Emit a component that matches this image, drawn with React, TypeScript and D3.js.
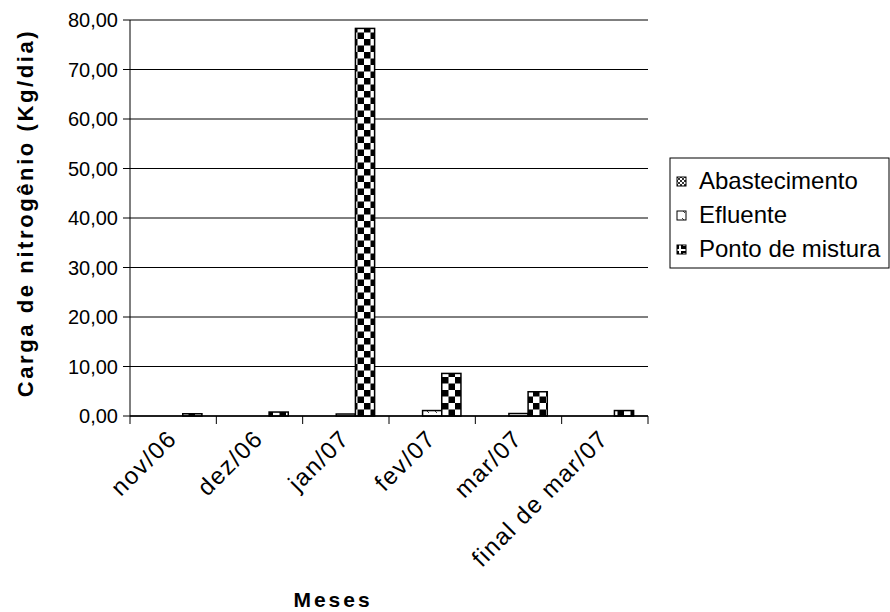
import React from "react";
import * as d3 from "d3";

const categories = ["nov/06", "dez/06", "jan/07", "fev/07", "mar/07", "final de mar/07"];
const seriesNames = ["Abastecimento", "Efluente", "Ponto de mistura"];
const abastecimento = [0, 0, 0, 0, 0, 0];
const efluente = [0, 0, 0.4, 1.1, 0.5, 0];
const pontoDeMistura = [0.45, 0.8, 78.3, 8.6, 4.9, 1.1];
const yTicks = [0, 10, 20, 30, 40, 50, 60, 70, 80];

const W = 890;
const H = 612;
const left = 130;
const right = 648;
const top = 20;
const bottom = 416;
const FONT = "'Liberation Sans', Arial, sans-serif";

export default function App() {
  const series = [abastecimento, efluente, pontoDeMistura];
  const patterns = ["pAbast", "pEflu", "pPonto"];
  const x = d3.scaleBand<string>().domain(categories).range([left, right]).paddingInner(0).paddingOuter(0);
  const inner = d3
    .scaleBand<string>()
    .domain(seriesNames)
    .range([0, x.bandwidth()])
    .paddingInner(0)
    .paddingOuter(0.75);
  const y = d3.scaleLinear().domain([0, 80]).range([bottom, top]);
  const fmt = (v: number) => v.toFixed(2).replace(".", ",");
  const boundaries = d3.range(categories.length + 1).map((i) => left + i * x.step());

  return (
    <svg width={W} height={H} style={{ position: "absolute", left: 0, top: 0, background: "#fff" }}>
      <defs>
        <pattern id="pAbast" width="4" height="4" patternUnits="userSpaceOnUse">
          <rect width="4" height="4" fill="#fff" />
          <rect width="2" height="2" fill="#333" />
          <rect x="2" y="2" width="2" height="2" fill="#333" />
        </pattern>
        <pattern id="pEflu" width="8" height="8" patternUnits="userSpaceOnUse">
          <rect width="8" height="8" fill="#fff" />
          <path d="M2,2 L5,5" stroke="#444" strokeWidth="1" />
        </pattern>
        <pattern id="pPonto" width="13" height="13" patternUnits="userSpaceOnUse" x={left} y={bottom}>
          <rect width="13" height="13" fill="#fff" />
          <rect width="6.5" height="6.5" fill="#000" />
          <rect x="6.5" y="6.5" width="6.5" height="6.5" fill="#000" />
        </pattern>
        <pattern id="pPontoLeg" width="10" height="10" patternUnits="userSpaceOnUse">
          <rect width="10" height="10" fill="#fff" />
          <rect x="1" y="1" width="8" height="8" fill="#000" />
          <rect x="3" y="3" width="4" height="3" fill="#fff" />
        </pattern>
      </defs>

      {/* gridlines */}
      {yTicks.map((t) => (
        <line key={"g" + t} x1={left} x2={right} y1={y(t)} y2={y(t)} stroke="#000" strokeWidth={1} />
      ))}

      {/* bars */}
      {categories.map((c, ci) => (
        <g key={c}>
          {series.map((s, si) => {
            const v = s[ci];
            if (v <= 0) return null;
            const bx = (x(c) as number) + (inner(seriesNames[si]) as number);
            return (
              <rect
                key={si}
                x={bx}
                y={y(v)}
                width={inner.bandwidth()}
                height={bottom - y(v)}
                fill={`url(#${patterns[si]})`}
                stroke="#000"
                strokeWidth={1.5}
              />
            );
          })}
        </g>
      ))}

      {/* y axis */}
      <line x1={left} x2={left} y1={top} y2={bottom} stroke="#000" strokeWidth={1} />
      {yTicks.map((t) => (
        <g key={"yt" + t}>
          <line x1={left - 7} x2={left} y1={y(t)} y2={y(t)} stroke="#000" />
          <text
            x={left - 12}
            y={y(t)}
            dy="0.36em"
            textAnchor="end"
            fontFamily={FONT}
            fontSize={20}
            fill="#000"
          >
            {fmt(t)}
          </text>
        </g>
      ))}

      {/* x axis */}
      <line x1={left} x2={right} y1={bottom} y2={bottom} stroke="#000" strokeWidth={1.5} />
      {boundaries.map((b, i) => (
        <line key={"xt" + i} x1={b} x2={b} y1={bottom} y2={bottom + 8} stroke="#000" />
      ))}
      {categories.map((c) => {
        const cx = (x(c) as number) + x.bandwidth() / 2 + 5;
        const cy = bottom + 24;
        return (
          <text
            key={"xl" + c}
            transform={`translate(${cx},${cy}) rotate(-45)`}
            textAnchor="end"
            fontFamily={FONT}
            fontSize={24}
            letterSpacing={1.5}
            fill="#000"
          >
            {c}
          </text>
        );
      })}

      {/* axis titles */}
      <text
        transform={`translate(33,${(top + bottom) / 2 - 5}) rotate(-90)`}
        textAnchor="middle"
        fontFamily={FONT}
        fontSize={22}
        fontWeight="bold"
        letterSpacing={2.6}
        fill="#000"
      >
        Carga de nitrogênio (Kg/dia)
      </text>
      <text
        x={(left + right) / 2 - 56}
        y={607}
        textAnchor="middle"
        fontFamily={FONT}
        fontSize={21}
        fontWeight="bold"
        letterSpacing={3}
        fill="#000"
      >
        Meses
      </text>

      {/* legend */}
      <rect x={670} y={158} width={219} height={110} fill="#fff" stroke="#000" strokeWidth={1} />
      {seriesNames.map((n, i) => {
        const ly = 189 + i * 34;
        return (
          <g key={"lg" + n}>
            <rect
              x={677}
              y={ly - 12}
              width={9}
              height={9}
              fill={i === 2 ? "url(#pPontoLeg)" : `url(#${patterns[i]})`}
              stroke="#000"
              strokeWidth={1}
            />
            <text x={699} y={ly} fontFamily={FONT} fontSize={24} fill="#000">
              {n}
            </text>
          </g>
        );
      })}
    </svg>
  );
}
